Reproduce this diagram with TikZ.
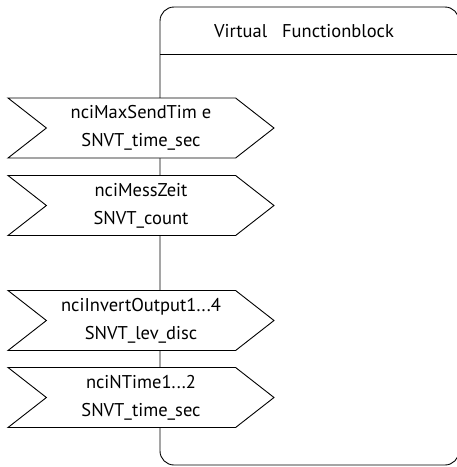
\documentclass[tikz,border=0pt]{standalone}
\usepackage{fontspec}
\setmainfont{PT Sans}
\usetikzlibrary{shapes.symbols}

\tikzset{
  nvin/.style={signal, signal from=west, signal to=east, signal pointer angle=76,
    draw, fill=white, line width=0.9pt, align=center, minimum width=266pt,
    minimum height=60pt, inner sep=0pt, font=\fontsize{18.5}{28}\selectfont},
}

\begin{document}
\begin{tikzpicture}[x=1pt, y=-1pt, line width=0.9pt]
\useasboundingbox (0,0) rectangle (457,467);
% functionblock frame
\draw[rounded corners=14pt] (160,7) rectangle (459,465);
\coordinate (hl) at (160,54);
\coordinate (hr) at (459,54);
\draw (hl) -- (hr);
\node (vfb) at (304,31) {\fontsize{18.5}{28}\selectfont Virtual\hspace{15pt}Functionblock};
% inputs
\node[nvin] (maxsend) at (141,128) {nciMaxSendTim e\\SNVT\_time\_sec};
\node[nvin] (messzeit) at (141,205.5) {nciMessZeit\\SNVT\_count};
% inputs, second group
\node[nvin] (invert) at (141,320.5) {nciInvertOutput1...4\\SNVT\_lev\_disc};
\node[nvin] (ntime) at (141,397.5) {nciNTime1...2\\SNVT\_time\_sec};
\end{tikzpicture}
\end{document}
